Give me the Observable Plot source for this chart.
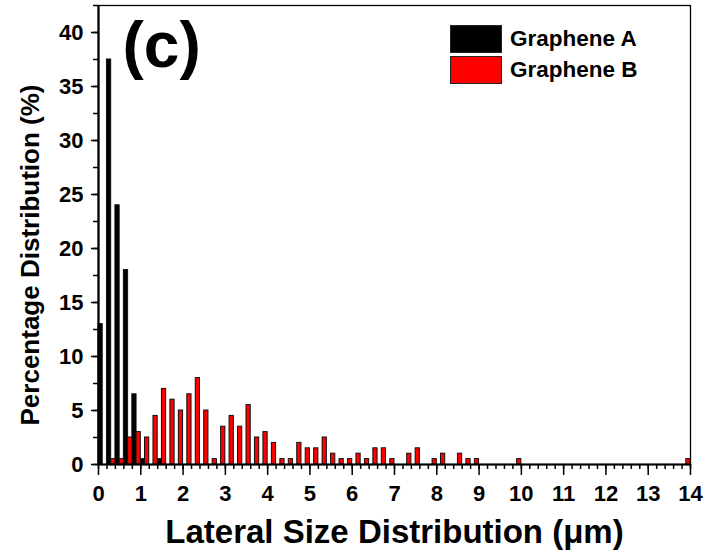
<!DOCTYPE html>
<html>
<head>
<meta charset="utf-8">
<script src="https://cdn.jsdelivr.net/npm/d3@7"></script>
<script src="https://cdn.jsdelivr.net/npm/@observablehq/plot@0.6"></script>
<style>
  body { margin: 0; background: #fff; }
  #chart { position: relative; width: 718px; height: 556px; font-family: "Liberation Sans", Arial, sans-serif; }
  #chart svg { display: block; }
  .legend { position: absolute; left: 450px; top: 23px; font-weight: bold; font-size: 22.5px; color: #000; }
  .legend .row { display: flex; align-items: center; height: 31.5px; }
  .legend .sw { width: 52px; height: 28px; box-sizing: border-box; margin-right: 8px; border: 1px solid #222; }
</style>
</head>
<body>
<div id="chart"></div>
<script>
// Lateral size histograms, 0.2 µm bins (left edge of each bin), percentage of flakes
const seriesNames = ["Graphene A", "Graphene B"];
const seriesColors = ["#000000", "#ff0000"];

const sizeA = [0, 0.2, 0.4, 0.6, 0.8, 1.0, 1.4];
const pctA  = [13, 37.5, 24, 18, 6.5, 0.5, 0.5];

const sizeB = [0.2, 0.4, 0.6, 0.8, 1.0, 1.2, 1.4, 1.6, 1.8, 2.0, 2.2, 2.4, 2.6, 2.8, 3.0, 3.2, 3.4, 3.6, 3.8, 4.0,
               4.2, 4.4, 4.6, 4.8, 5.0, 5.2, 5.4, 5.6, 5.8, 6.0, 6.2, 6.4, 6.6, 6.8, 7.2, 7.4, 7.8, 8.0, 8.4, 8.6,
               8.8, 9.8, 13.8];
const pctB  = [0.5, 0.5, 2.5, 3, 2.5, 4.5, 7, 6, 5, 6.5, 8, 5, 0.5, 3.5, 4.5, 3.5, 5.5, 2.5, 3, 2,
               0.5, 0.5, 2, 1.5, 1.5, 2.5, 1, 0.5, 0.5, 1, 0.5, 1.5, 1.5, 0.5, 1, 1.5, 0.5, 1, 1, 0.5,
               0.5, 0.5, 0.5];

const xTickLabels = [0, 1, 2, 3, 4, 5, 6, 7, 8, 9, 10, 11, 12, 13, 14];
const yTickLabels = [0, 5, 10, 15, 20, 25, 30, 35, 40];

const binWidth = 0.2;
const half = binWidth / 2;

// each bin holds a pair of side-by-side bars: A on the left half, B on the right half
const bars = [
  ...sizeA.map((s, i) => ({series: seriesNames[0], x1: s, x2: s + half, pct: pctA[i]})),
  ...sizeB.map((s, i) => ({series: seriesNames[1], x1: s + half, x2: s + binWidth, pct: pctB[i]}))
];

const xMinor = d3.range(0, 14 + 1e-9, binWidth);
const yMinor = d3.range(0, 42.5 + 1e-9, 2.5);

const font = "'Liberation Sans', Arial, sans-serif";

const chart = Plot.plot({
  width: 718,
  height: 556,
  marginLeft: 98,
  marginRight: 28,
  marginTop: 5,
  marginBottom: 92,
  style: {fontFamily: font, fontWeight: "bold", color: "#000", background: "#fff"},
  x: {domain: [0, 14]},
  y: {domain: [0, 42.5]},
  color: {domain: seriesNames, range: seriesColors},
  marks: [
    Plot.rectY(bars, {x1: "x1", x2: "x2", y: "pct", fill: "series", stroke: "#111", strokeWidth: 1}),
    Plot.frame({stroke: "#000", strokeWidth: 1.3}),
    Plot.ruleY([0], {stroke: "#000", strokeWidth: 2.2}),
    Plot.ruleX([0], {stroke: "#000", strokeWidth: 2.2}),
    // x axis: minor ticks every bin, longer labelled ticks every micrometre
    Plot.axisX(xMinor, {tickSize: 5, tickFormat: () => "", strokeWidth: 1.5, label: null}),
    Plot.axisX(xTickLabels, {tickSize: 11, tickPadding: 10, strokeWidth: 1.5, fontSize: 22, label: null}),
    // y axis
    Plot.axisY(yMinor, {tickSize: 5, tickFormat: () => "", strokeWidth: 1.5, label: null}),
    Plot.axisY(yTickLabels, {tickSize: 7, tickPadding: 8, strokeWidth: 1.5, fontSize: 22, label: null}),
    Plot.text(["Lateral Size Distribution (\u03bcm)"], {
      frameAnchor: "bottom", dy: 55, fontSize: 33, fontWeight: "bold", lineAnchor: "top", textAnchor: "middle"
    }),
    Plot.text(["Percentage Distribution (%)"], {
      frameAnchor: "left", dx: -60, rotate: -90, fontSize: 26, fontWeight: "bold",
      lineAnchor: "bottom", textAnchor: "middle", dy: 20
    }),
    Plot.text(["(c)"], {
      frameAnchor: "top-left", dx: 24, dy: 16, fontSize: 64, fontWeight: "bold",
      textAnchor: "start", lineAnchor: "top"
    })
  ]
});

const host = document.getElementById("chart");
host.appendChild(chart);

// legend inside the plot area, top right
const legend = document.createElement("div");
legend.className = "legend";
seriesNames.forEach((name, i) => {
  const row = document.createElement("div");
  row.className = "row";
  const sw = document.createElement("div");
  sw.className = "sw";
  sw.style.background = seriesColors[i];
  const label = document.createElement("span");
  label.textContent = name;
  row.appendChild(sw);
  row.appendChild(label);
  legend.appendChild(row);
});
host.appendChild(legend);
</script>
</body>
</html>
